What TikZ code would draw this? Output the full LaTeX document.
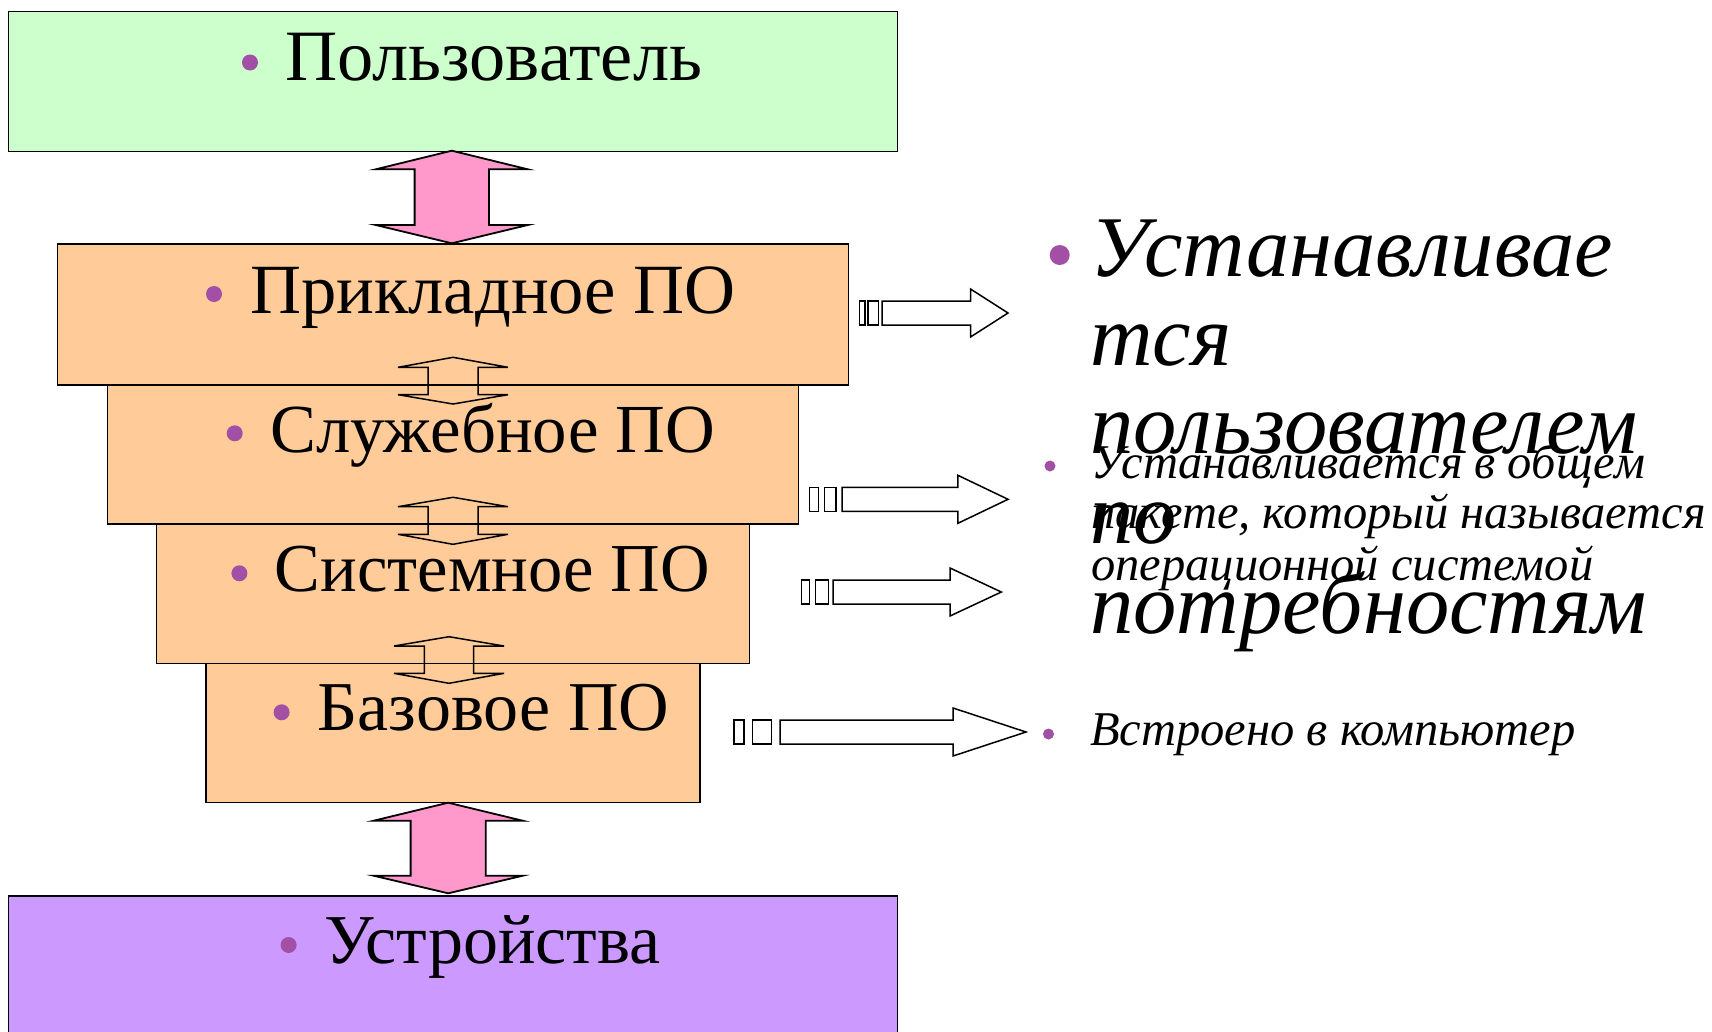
\documentclass[tikz,border=0pt]{standalone}
\usepackage{fontspec}
\setmainfont{Liberation Serif}
\definecolor{boxgreen}{HTML}{CCFFCC}
\definecolor{boxorange}{HTML}{FFCC99}
\definecolor{boxpurple}{HTML}{CC99FF}
\definecolor{arrowpink}{HTML}{FF99CC}
\definecolor{bulletc}{HTML}{A24FA6}
\newcommand\myStripArrow[8]{%
  \draw[blockarrow] (#1,#8-12) rectangle (#2,#8+12);
  \draw[blockarrow] (#3,#8-12) rectangle (#4,#8+12);
  \draw[blockarrow] (#5,#8-12) -- (#6,#8-12) -- (#6,#8-24) -- (#7,#8)
     -- (#6,#8+24) -- (#6,#8+12) -- (#5,#8+12) -- cycle;}
\newcommand\myUpDownArrow[8]{% cx, top, wing1 y, wing2 y, bottom, half wing, half shaft, style
  \draw[#8] (#1,#2) -- (#1+#6,#3) -- (#1+#7,#3) -- (#1+#7,#4) -- (#1+#6,#4)
     -- (#1,#5) -- (#1-#6,#4) -- (#1-#7,#4) -- (#1-#7,#3) -- (#1-#6,#3) -- cycle;}
\begin{document}
\begin{tikzpicture}[x=1pt,y=-1pt,
  box/.style={draw=black,line width=1.6pt,rectangle,anchor=north,inner sep=0pt},
  lbl/.style={anchor=base west,inner sep=0pt},
  bigtxt/.style={anchor=base west,inner sep=0pt,font=\fontsize{86.5}{89}\selectfont\itshape},
  smalltxt/.style={anchor=base west,inner sep=0pt,font=\fontsize{48.5}{51}\selectfont\itshape},
  blockarrow/.style={draw=black,line width=1.5pt,line join=miter},
  pinkarrow/.style={draw=black,line width=1.8pt,fill=arrowpink,line join=miter},
  openarrow/.style={draw=black,line width=1.5pt,line join=miter},
  bul/.style={fill=bulletc}]
\clip (0,0) rectangle (1712,1031);
\fill[white] (0,0) rectangle (1712,1031);
% boxes
\node[box,fill=boxgreen,minimum width=889pt,minimum height=140pt] (user) at (453,10.7) {};
\node[box,fill=boxorange,minimum width=791pt,minimum height=140.7pt] (app) at (453,243.3) {};
\node[box,fill=boxorange,minimum width=691pt,minimum height=139pt] (util) at (453,384) {};
\node[box,fill=boxorange,minimum width=593pt,minimum height=139.7pt] (sys) at (453,523) {};
\node[box,fill=boxorange,minimum width=494pt,minimum height=139pt] (base) at (453,662.7) {};
\node[box,fill=boxpurple,minimum width=889pt,minimum height=160pt] (dev) at (453,895) {};
% labels
\fill[bul] (250,62.5) circle (8);
\node[lbl,font=\fontsize{72.3}{72}\selectfont] (tuser) at (285,80.7) {Пользователь};
\fill[bul] (214,294) circle (8);
\node[lbl,font=\fontsize{70.6}{70}\selectfont] (tapp) at (250,313.3) {Прикладное ПО};
\fill[bul] (234.7,433.3) circle (8);
\node[lbl,font=\fontsize{68.8}{70}\selectfont] (tutil) at (270,452.7) {Служебное ПО};
\fill[bul] (239.4,573.3) circle (8);
\node[lbl,font=\fontsize{68.6}{70}\selectfont] (tsys) at (274.5,591.7) {Системное ПО};
\fill[bul] (281.6,712.3) circle (8);
\node[lbl,font=\fontsize{70}{70}\selectfont] (tbase) at (317.5,730.7) {Базовое ПО};
\fill[bul] (288.6,945) circle (8);
\node[lbl,font=\fontsize{70}{70}\selectfont] (tdev) at (324.5,963.3) {Устройства};
% vertical arrows
\myUpDownArrow{451.8}{150.7}{169.3}{225}{243.3}{76}{37.2}{pinkarrow}
\myUpDownArrow{448.2}{802.7}{820.7}{875.7}{893.3}{74.5}{37.6}{pinkarrow}
\myUpDownArrow{453}{357.3}{367.3}{394.7}{404}{55}{25}{openarrow}
\myUpDownArrow{453}{497.3}{506.7}{534.3}{544.3}{55}{25}{openarrow}
\myUpDownArrow{449}{636.7}{646}{673.3}{683.3}{55}{24.6}{openarrow}
% striped arrows
\myStripArrow{859.5}{865}{867.8}{878.5}{882}{970.5}{1008}{313}
\myStripArrow{809.6}{818.4}{824.3}{836}{842}{957.9}{1008}{499.3}
\myStripArrow{801.4}{809.6}{815.5}{828.4}{833}{950}{1001.3}{592}
\myStripArrow{734}{744}{752.7}{771.7}{780}{953}{1026}{732}
% right texts
\fill[bul] (1059.7,255) circle (10);
\node[bigtxt] (b1) at (1090,276) {Устанавливае};
\node[bigtxt] (b2) at (1090,365) {тся};
\node[bigtxt] (b3) at (1090,453) {пользователем};
\node[bigtxt] (b4) at (1090,543) {по};
\node[bigtxt] (b5) at (1090,633) {потребностям};
\fill[bul] (1050,466) circle (5.5);
\node[smalltxt] (m1) at (1091,478.3) {Устанавливается в общем};
\node[smalltxt] (m2) at (1091,528.3) {пакете, который называется};
\node[smalltxt] (m3) at (1091,580) {операционной системой};
\fill[bul] (1048.5,734) circle (5.5);
\node[smalltxt] (s1) at (1090,745) {Встроено в компьютер};
\end{tikzpicture}
\end{document}
